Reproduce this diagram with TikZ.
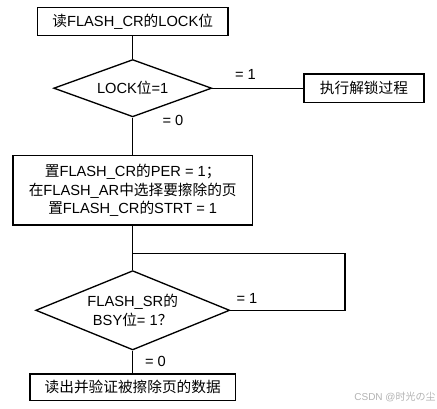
\documentclass[tikz,border=0pt]{standalone}
\usepackage{fontspec}
\setmainfont{Liberation Sans}
\newfontfamily\cjk{Noto Sans CJK SC}
\newcommand{\zh}[1]{{\cjk #1}}
\usetikzlibrary{shapes.geometric}

\begin{document}
\begin{tikzpicture}[x=0.75pt,y=-0.75pt,font=\fontsize{11}{14}\selectfont,box/.style={draw,line width=1pt,inner sep=0pt,align=center},decide/.style={draw,diamond,line width=1pt,inner sep=0pt,align=center},link/.style={line width=1pt},lbl/.style={inner sep=0pt}]
\useasboundingbox (0,0) rectangle (437,409);
\node[box,minimum width=143pt,minimum height=21.3pt] (n0) at (132.7,21.5) {\zh{读}FLASH\_CR\zh{的}LOCK\zh{位}};
\node[decide,aspect=2.76,minimum width=118.5pt,minimum height=43pt] (n1) at (132.7,88.2) {LOCK\zh{位}=1};
\node[box,minimum width=90pt,minimum height=21.2pt] (n2) at (364,88.2) {\zh{执行解锁过程}};
\node[box,minimum width=179.7pt,minimum height=52pt] (n3) at (132.7,190.3) {\zh{置}FLASH\_CR\zh{的}PER = 1\zh{；}\\\zh{在}FLASH\_AR\zh{中选择要擦除的页}\\\zh{置}FLASH\_CR\zh{的}STRT = 1};
\node[decide,aspect=2.45,minimum width=145.5pt,minimum height=59.5pt,font=\fontsize{11}{14.8}\selectfont] (n4) at (132.7,310.3) {FLASH\_SR\zh{的}\\BSY\zh{位}= 1\zh{？}};
\node[box,minimum width=154pt,minimum height=20pt] (n5) at (132.7,387.3) {\zh{读出并验证被擦除页的数据}};
\coordinate (c0) at (345,253.5);
\coordinate (c1) at (132.7,253.5);
% connectors
\draw[link] (n0) -- (n1);
\draw[link] (n1) -- (n2);
\draw[link] (n1) -- (n3);
\draw[link] (n3) -- (n4);
\draw[link] (n4) -- (n5);
\draw[link] (n4.east) -| (c0) -- (c1);
% labels
\node[lbl] (l0) at (245.5,74) {= 1};
\node[lbl] (l1) at (173,120.5) {= 0};
\node[lbl] (l2) at (247,298) {= 1};
\node[lbl] (l3) at (155.5,361) {= 0};
\node[text=gray!60,font=\fontsize{7.5}{9}\selectfont] (wm) at (395,397) {CSDN @\zh{时光の尘}};
\end{tikzpicture}
\end{document}
